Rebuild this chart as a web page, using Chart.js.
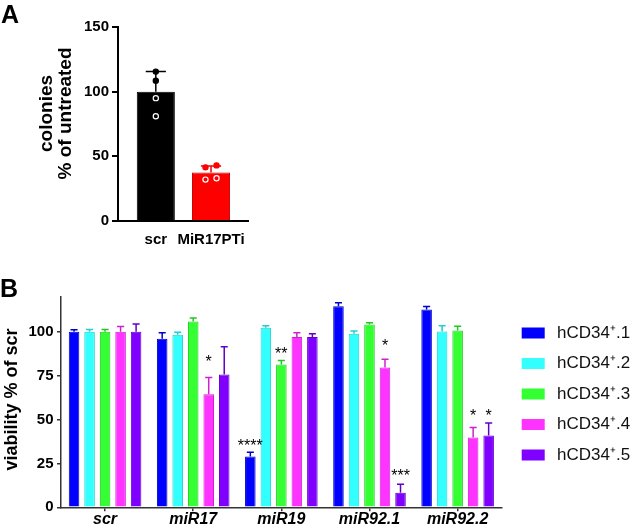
<!DOCTYPE html>
<html>
<head>
<meta charset="utf-8">
<script src="https://cdn.jsdelivr.net/npm/chart.js@4.4.0/dist/chart.umd.min.js"></script>
<style>
  body { margin: 0; background: #fff; width: 632px; height: 529px; position: relative; overflow: hidden; font-family: Arial, "Liberation Sans", sans-serif; }
  canvas { position: absolute; left: 0; }
  .panel { position: absolute; font-weight: bold; font-size: 25px; line-height: 1; color: #000; }
</style>
</head>
<body>
<canvas id="chartA" width="300" height="260" style="top:0"></canvas>
<canvas id="chartB" width="632" height="269" style="top:260px"></canvas>
<div class="panel" style="left:1px;top:2px">A</div>
<div class="panel" style="left:0px;top:276px">B</div>
<script>
const FONT = 'Arial, "Liberation Sans", sans-serif';
Chart.defaults.font.family = FONT;
Chart.defaults.color = '#000';

// ---- panel A: colonies ----
const catsA = ['scr', 'MiR17PTi'];
const meanA = [100, 37.5];
const errTopA = [115.5, 42.5];
const yTicksA = [0, 50, 100, 150];
// single replicates (group index, value, jitter, open symbol?)
const dotGroup = [0, 0, 0, 0, 1, 1, 1, 1];
const dotVals = [115.5, 108.5, 95, 81, 41.5, 43, 32, 33];
const dotJitter = [0, 0, 0, 0, -0.1, 0.1, -0.1, 0.1];
const dotOpen = [false, false, true, true, false, false, true, true];

// ---- panel B: viability ----
const catsB = ['scr', 'miR17', 'miR19', 'miR92.1', 'miR92.2'];
const seriesB = ['hCD34\u207A.1', 'hCD34\u207A.2', 'hCD34\u207A.3', 'hCD34\u207A.4', 'hCD34\u207A.5'];
const yTicksB = [0, 25, 50, 75, 100];
const hcd1 = [100, 96, 29, 114.6, 112.7];
const hcd2 = [100, 98.3, 102.3, 98.9, 100.2];
const hcd3 = [100, 105.9, 81.4, 104.2, 100.8];
const hcd4 = [100, 64.4, 97, 79.7, 39.8];
const hcd5 = [100, 75.6, 97, 8.3, 40.9];
const err1 = [101.2, 99.4, 31.4, 116.5, 114.4];
const err2 = [101.3, 99.8, 103.4, 100.4, 103.4];
const err3 = [101.3, 107.8, 83.7, 105.1, 103.2];
const err4 = [103, 74, 99.4, 84.3, 45.5];
const err5 = [104.5, 91.5, 98.9, 13.1, 48.1];
// significance marks and the level they sit at
const sig1 = [null, null, '****', null, null];
const sig3 = [null, null, '**', null, null];
const sig4 = [null, '*', null, '*', '*'];
const sig5 = [null, null, null, '***', '*'];
const sigAt1 = [null, null, 37.3, null, null];
const sigAt3 = [null, null, 89.4, null, null];
const sigAt4 = [null, 85.2, null, 94.1, 54.3];
const sigAt5 = [null, null, null, 20.2, 54.3];

const colorsB = ['#0000ff', '#33ffff', '#33ff33', '#ff33ff', '#8000ff'];
const edgesB = ['#0000c8', '#20d0d0', '#20c820', '#d020d0', '#6000c8'];

// draws SD caps above each bar, right after its dataset
const errorBars = {
  id: 'errorBars',
  afterDatasetDraw(chart, args) {
    const ds = chart.data.datasets[args.index];
    if (!ds.errTop) return;
    const y = chart.scales.y;
    const c = chart.ctx;
    c.save();
    c.lineWidth = ds.errWidth || 1.5;
    args.meta.data.forEach((bar, i) => {
      const top = y.getPixelForValue(ds.errTop[i]);
      const hw = bar.width * ds.capRatio / 2;
      c.strokeStyle = Array.isArray(ds.errColor) ? ds.errColor[i] : ds.errColor;
      c.beginPath();
      c.moveTo(bar.x, bar.y);
      c.lineTo(bar.x, top);
      c.moveTo(bar.x - hw, top);
      c.lineTo(bar.x + hw, top);
      c.stroke();
    });
    c.restore();
  }
};

const sigMarks = {
  id: 'sigMarks',
  afterDatasetsDraw(chart) {
    const c = chart.ctx, y = chart.scales.y;
    c.save();
    c.font = '16px ' + FONT;
    c.fillStyle = '#000';
    c.textAlign = 'center';
    c.textBaseline = 'alphabetic';
    chart.data.datasets.forEach((ds, di) => {
      if (!ds.sig) return;
      const meta = chart.getDatasetMeta(di);
      ds.sig.forEach((s, i) => {
        if (!s) return;
        c.fillText(s, meta.data[i].x, y.getPixelForValue(ds.sigAt[i]) + 9);
      });
    });
    c.restore();
  }
};

const sideLegend = {
  id: 'sideLegend',
  afterDraw(chart, args, o) {
    const c = chart.ctx, area = chart.chartArea;
    c.save();
    c.font = '17px ' + FONT;
    c.textBaseline = 'middle';
    chart.data.datasets.forEach((ds, i) => {
      const y = area.top + o.top + i * o.gap;
      c.fillStyle = ds.backgroundColor;
      c.fillRect(area.right + o.left, y - o.boxH / 2, o.boxW, o.boxH);
      c.fillStyle = '#111';
      c.fillText(ds.label, area.right + o.textLeft, y);
    });
    c.restore();
  }
};

function colorsA(i) {
  return dotGroup[i] === 0 ? '#000000' : '#ff0000';
}

new Chart(document.getElementById('chartA'), {
  type: 'bar',
  data: {
    datasets: [
      {
        type: 'scatter',
        order: 1,
        data: dotVals.map((v, i) => ({ x: dotGroup[i] + dotJitter[i], y: v })),
        pointRadius: 2.6,
        pointBorderWidth: 1.2,
        pointBackgroundColor: dotOpen.map((o, i) => (o ? 'rgba(0,0,0,0)' : colorsA(i))),
        pointBorderColor: dotOpen.map((o, i) => (o ? '#ffffff' : colorsA(i)))
      },
      {
        type: 'bar',
        order: 2,
        data: meanA.map((v, i) => ({ x: i, y: v })),
        backgroundColor: ['#000000', '#ff0000'],
        borderColor: ['#000000', '#c00000'],
        borderWidth: 1,
        categoryPercentage: 1,
        barPercentage: 0.69,
        errTop: errTopA,
        errColor: ['#000000', '#ee0000'],
        errWidth: 1.5,
        capRatio: 0.53
      }
    ]
  },
  options: {
    responsive: false,
    animation: false,
    layout: { padding: { top: 27, right: 52, left: 0, bottom: 0 } },
    plugins: { legend: { display: false }, tooltip: { enabled: false } },
    scales: {
      x: {
        type: 'linear',
        offset: false,
        min: -0.685,
        max: 1.67,
        afterBuildTicks: s => { s.ticks = catsA.map((c, i) => ({ value: i })); },
        afterFit: s => { s.height = 39; },
        grid: { display: true, drawOnChartArea: false, drawTicks: false },
        border: { color: '#000', width: 2 },
        ticks: { padding: 10, color: '#000', font: { size: 15, weight: 'bold' }, callback: v => catsA[v] }
      },
      y: {
        min: 0,
        max: 150,
        afterBuildTicks: s => { s.ticks = yTicksA.map(v => ({ value: v })); },
        afterFit: s => { s.width = 118; },
        grid: { drawOnChartArea: false, tickLength: 6, color: '#000', lineWidth: 2 },
        border: { color: '#000', width: 2 },
        ticks: { padding: 3, color: '#000', font: { size: 15, weight: 'bold' } },
        title: {
          display: true,
          text: ['    colonies', '    % of untreated'],
          color: '#000',
          font: { size: 19, weight: 'bold', lineHeight: 1 },
          padding: { top: 37.5, bottom: 0 }
        }
      }
    }
  },
  plugins: [errorBars]
});

const valsB = [hcd1, hcd2, hcd3, hcd4, hcd5];
const errsB = [err1, err2, err3, err4, err5];
const sigsB = [sig1, null, sig3, sig4, sig5];
const sigAtB = [sigAt1, null, sigAt3, sigAt4, sigAt5];

new Chart(document.getElementById('chartB'), {
  type: 'bar',
  data: {
    labels: catsB,
    datasets: seriesB.map((name, k) => ({
      label: name,
      data: valsB[k],
      backgroundColor: colorsB[k],
      borderColor: edgesB[k],
      borderWidth: 1,
      categoryPercentage: 0.88,
      barPercentage: 0.68,
      errTop: errsB[k],
      errColor: edgesB[k],
      errWidth: 1.5,
      capRatio: 0.67,
      sig: sigsB[k],
      sigAt: sigAtB[k]
    }))
  },
  options: {
    responsive: false,
    animation: false,
    layout: { padding: { top: 36.7, right: 130.3, left: 0, bottom: 0 } },
    plugins: {
      legend: { display: false },
      tooltip: { enabled: false },
      sideLegend: { left: 20, top: 36.3, gap: 30.5, boxW: 23, boxH: 11, textLeft: 55.3 }
    },
    scales: {
      x: {
        offset: true,
        afterFit: s => { s.height = 21.7; },
        grid: { offset: false, drawOnChartArea: false, tickLength: 4, color: '#333', lineWidth: 1.5 },
        border: { color: '#333', width: 1.5 },
        ticks: { padding: 0, color: '#000', font: { size: 16, weight: 'bold', style: 'italic', lineHeight: 1 } }
      },
      y: {
        min: 0,
        max: 120,
        afterBuildTicks: s => { s.ticks = yTicksB.map(v => ({ value: v })); },
        afterFit: s => { s.width = 61; },
        grid: { drawOnChartArea: false, tickLength: 4, color: '#333', lineWidth: 1.5 },
        border: { color: '#333', width: 1.5 },
        ticks: { padding: 3.5, color: '#000', font: { size: 15, weight: 'bold' } },
        title: {
          display: true,
          text: ' viability % of scr',
          color: '#000',
          font: { size: 18, weight: 'bold', lineHeight: 1.2 },
          padding: { top: 1, bottom: 0 }
        }
      }
    }
  },
  plugins: [errorBars, sigMarks, sideLegend]
});
</script>
</body>
</html>
